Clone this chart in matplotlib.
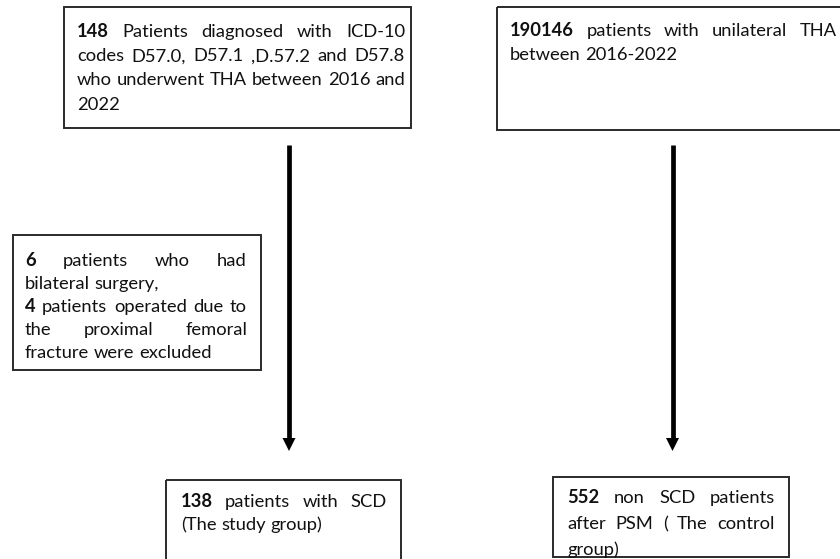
import matplotlib
matplotlib.use("Agg")
import matplotlib.pyplot as plt
from matplotlib.patches import Rectangle, Polygon

plt.rcParams['font.family'] = ['Lato', 'DejaVu Sans']

FONT_SIZE = 13.2
TEXT_COLOR = '#111111'
EDGE_COLOR = '#2a2a2a'

# one string per printed line; **x** = bold word, trailing '|' = last line of a paragraph (not justified)
box1_lines = ["**148** Patients diagnosed with ICD-10",
              "codes D57.0, D57.1 ,D.57.2 and D57.8",
              "who underwent THA between 2016 and",
              "2022|"]
box2_lines = ["**190146** patients with unilateral THA",
              "between 2016-2022|"]
excl_lines = ["**6** patients who had",
              "bilateral surgery,|",
              "**4** patients operated due to",
              "the proximal femoral",
              "fracture were excluded|"]
study_lines = ["**138** patients with SCD",
               "(The study group)|"]
control_lines = ["**552** non SCD patients",
                 "after PSM ( The control",
                 "group)|"]

# layout in pixels: rect (x0, y0, x1, y1), text span (left, right), first baseline, line gap
boxes = [
    dict(lines=box1_lines, rect=(64, 7, 411, 128), span=(77, 405), base=37, gap=24.2),
    dict(lines=box2_lines, rect=(497, 7, 870, 130), span=(510, 837), base=36, gap=24),
    dict(lines=excl_lines, rect=(13, 235, 261, 370), span=(25, 247), base=266, gap=23),
    dict(lines=study_lines, rect=(166, 480, 401, 620), span=(181, 387), base=507, gap=23.4),
    dict(lines=control_lines, rect=(553, 477, 789, 557), span=(567, 775), base=503, gap=26, clip=True),
]
arrows = [(289, 145, 451), (672.5, 145, 451)]

fig = plt.figure(figsize=(8.4, 5.59), dpi=100)
ax = fig.add_axes([0, 0, 1, 1])
ax.set_xlim(0, 840)
ax.set_ylim(559, 0)
ax.axis('off')
renderer = fig.canvas.get_renderer()


def text_width(s, weight='normal'):
    t = ax.text(0, 0, s, fontsize=FONT_SIZE, fontweight=weight)
    w = t.get_window_extent(renderer).width
    t.remove()
    return w


space_w = text_width("x x") - text_width("xx")


def draw_box(b):
    x0, y0, x1, y1 = b['rect']
    rect = Rectangle((x0, y0), x1 - x0, y1 - y0, fill=False, edgecolor=EDGE_COLOR, lw=1.4)
    ax.add_patch(rect)
    left, right = b['span']
    for i, line in enumerate(b['lines']):
        last = line.endswith('|')
        words = []
        for w in line.rstrip('|').split():
            if w.startswith('**'):
                words.append((w.strip('*'), 'bold'))
            else:
                words.append((w, 'normal'))
        widths = [text_width(w, wt) for w, wt in words]
        if last or len(words) == 1:
            gap = space_w
        else:
            gap = max((right - left - sum(widths)) / (len(words) - 1), space_w * 0.6)
        x = left
        y = b['base'] + i * b['gap']
        for (w, wt), wd in zip(words, widths):
            t = ax.text(x, y, w, fontsize=FONT_SIZE, fontweight=wt, color=TEXT_COLOR,
                        ha='left', va='baseline')
            if b.get('clip'):
                t.set_clip_path(rect)
            x += wd + gap


for b in boxes:
    draw_box(b)

for x, ys, ye in arrows:
    ax.plot([x, x], [ys, ye - 11], color='black', lw=3.4, solid_capstyle='butt')
    ax.add_patch(Polygon([(x - 6.5, ye - 13), (x + 6.5, ye - 13), (x, ye)],
                         closed=True, color='black', lw=0))

fig.savefig('out.png', dpi=100)
